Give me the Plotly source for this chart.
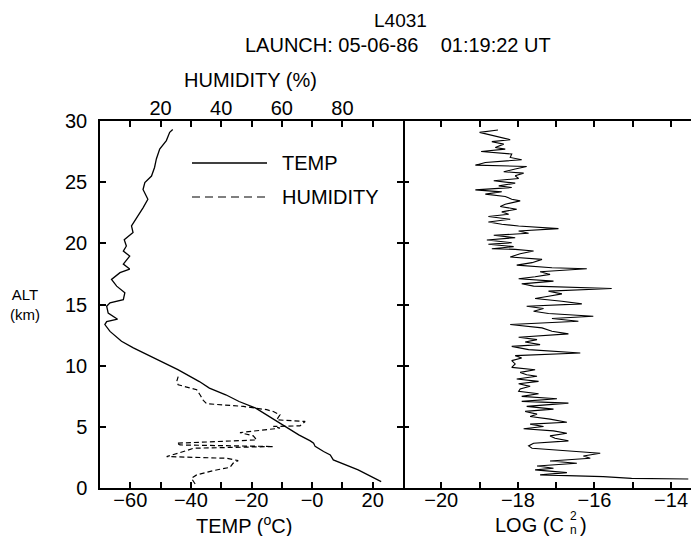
import plotly.graph_objects as go

# ---------------- data ----------------
title_line1 = "L4031"
title_line2 = "LAUNCH: 05-06-86\u00a0\u00a0\u00a0\u00a001:19:22 UT"

temp_alt = [0.52, 0.79, 1.48, 2.3, 2.5, 2.7, 2.98, 3.4, 3.66, 3.85, 4.34, 5.03, 5.85,
            6.53, 7.07, 7.62, 8.17, 8.7, 9.67, 10.76, 11.45, 12.0, 12.8, 13.36, 13.6,
            13.8, 14.3, 14.86, 15.14, 15.4, 15.96, 16.5, 17.05, 17.6, 17.9, 18.3,
            18.96, 19.37, 19.78, 20.3, 20.88, 21.42, 22.24, 22.9, 23.6, 24.4, 24.97,
            25.5, 26.2, 26.9, 27.7, 28.4, 29.07, 29.3]
temp_c = [22.8, 20.7, 15.2, 7.0, 6.5, 6.0, 3.8, 1.0, 0.5, -0.6, -4.4, -8.8, -14.3,
          -18.6, -24.1, -28.5, -33.9, -37.2, -44.3, -53.6, -59.0, -62.9, -66.7, -68.4, -67.8,
          -64.2, -67.3, -67.8, -66.7, -62.3, -61.8, -64.5, -66.2, -63.4, -60.2, -62.3,
          -60.2, -62.3, -61.3, -62.0, -59.1, -59.6, -57.4, -55.8, -54.2, -55.8, -55.2,
          -53.0, -52.0, -51.4, -50.3, -48.1, -47.0, -46.0]

hum_alt = [0.33, 0.79, 1.07, 1.42, 1.69, 2.02, 2.24, 2.43, 2.57, 2.79, 3.06, 3.25, 3.39,
           3.52, 3.66, 3.93, 4.26, 4.53, 4.75, 4.89, 5.03, 5.08, 5.44, 5.57, 5.98, 6.25,
           6.4, 6.67, 6.89, 7.16, 7.62, 8.03, 8.25, 8.44, 8.7, 9.1]
hum_pct = [31.4, 30.2, 31.9, 37.4, 42.9, 43.9, 45.6, 41.8, 22.0, 25.3, 28.6, 30.8, 57.2,
           26.4, 25.3, 51.7, 50.6, 46.2, 53.9, 59.4, 57.2, 66.0, 67.7, 58.3, 59.4, 57.2,
           55.0, 47.3, 35.2, 34.1, 33.0, 31.9, 28.6, 25.8, 25.3, 25.8]

cn2_alt = [0.74, 0.79, 0.93, 1.07, 1.26, 1.48, 1.61, 1.80, 2.02, 2.21, 2.43, 2.62, 2.84,
           3.11, 3.25, 3.44, 3.66, 3.85, 4.07, 4.26, 4.48, 4.67, 4.84, 5.03, 5.22, 5.38,
           5.63, 5.85, 6.04, 6.26, 6.45, 6.67, 6.94, 7.08, 7.30, 7.49, 7.70, 7.90, 8.09,
           8.31, 8.52, 8.72, 8.91, 9.13, 9.26, 9.45, 9.67, 9.86, 10.14, 10.41, 10.63,
           10.82, 11.04, 11.31, 11.58, 11.72, 11.94, 12.13, 12.32, 12.60, 12.81, 13.09,
           13.36, 13.63, 13.85, 14.04, 14.26, 14.45, 14.67, 14.86, 15.05, 15.27, 15.49,
           15.68, 15.87, 16.09, 16.31, 16.50, 16.69, 16.91, 17.10, 17.27, 17.46, 17.68,
           17.92, 18.01, 18.22, 18.42, 18.69, 18.88, 19.15, 19.37, 19.51, 19.56, 19.73,
           19.92, 20.05, 20.27, 20.46, 20.66, 20.82, 21.01, 21.20, 21.42, 21.56, 21.75,
           21.97, 22.19, 22.38, 22.57, 22.79, 23.01, 23.20, 23.47, 23.61, 23.83, 24.02,
           24.21, 24.37, 24.56, 24.70, 24.92, 25.11, 25.30, 25.52, 25.74, 25.85, 26.07,
           26.28, 26.39, 26.61, 26.83, 27.02, 27.30, 27.51, 27.70, 27.84, 28.11, 28.31,
           28.47, 28.85, 29.07, 29.26]
cn2_log = [-13.55, -15.03, -15.77, -17.42, -16.72, -17.55, -17.07, -17.50, -16.46, -17.16,
           -16.11, -16.29, -15.85, -17.16, -17.63, -17.72, -17.59, -16.68, -17.03, -17.16,
           -16.72, -17.07, -17.85, -17.33, -17.68, -16.72, -17.16, -17.68, -17.50, -17.81,
           -17.07, -17.77, -16.68, -17.90, -16.98, -17.90, -17.46, -17.98, -17.94, -17.68,
           -17.98, -17.46, -18.03, -17.50, -17.77, -17.94, -17.55, -18.16, -18.07, -18.16,
           -17.90, -18.07, -16.37, -17.72, -18.16, -17.42, -17.81, -17.50, -17.98, -16.68,
           -17.11, -17.37, -18.20, -16.42, -17.11, -16.03, -17.20, -17.59, -17.33, -17.77,
           -16.33, -16.85, -17.55, -17.20, -16.85, -17.20, -15.55, -17.59, -17.90, -17.07,
           -17.98, -17.55, -17.16, -17.42, -16.20, -17.11, -18.03, -17.63, -17.37, -18.20,
           -17.94, -17.59, -18.07, -18.68, -18.11, -18.77, -18.16, -18.81, -18.07, -18.63,
           -17.72, -17.98, -16.94, -17.98, -18.42, -18.77, -18.20, -18.77, -18.24, -18.42,
           -18.03, -18.46, -18.33, -17.94, -18.16, -18.33, -18.85, -18.42, -19.11, -18.16,
           -18.50, -18.07, -18.63, -17.98, -18.07, -17.85, -18.37, -18.07, -17.77, -19.11,
           -18.85, -17.90, -18.20, -18.16, -18.96, -18.33, -18.59, -18.37, -18.68, -18.20,
           -18.68, -19.00, -18.52]

alt_ticks = [0, 5, 10, 15, 20, 25, 30]
alt_labels = ["0", "5", "10", "15", "20", "25", "30"]
temp_ticks = [-60, -40, -20, 0, 20]
temp_labels = ["\u221260", "\u221240", "\u221220", "\u22120", "20"]
hum_ticks = [20, 40, 60, 80]
hum_labels = ["20", "40", "60", "80"]
cn2_ticks = [-20, -18, -16, -14]
cn2_labels = ["\u221220", "\u221218", "\u221216", "\u221214"]

series_names = ["TEMP", "HUMIDITY"]

# ---------------- figure ----------------
FONT = "Liberation Sans, Arial, Helvetica, sans-serif"
OFF = 8                      # page body margin of the html page
WIN_W, WIN_H = 699, 536
W, H = WIN_W - OFF, WIN_H - OFF
ML, MR, MT, MB = 100 - OFF, 0, 121 - OFF, 48
PW = W - ML - MR
PH = H - MT - MB
split = 303 / PW


def px(xw):
    # window pixel x -> paper x
    return (xw - OFF - ML) / PW


def py(yw):
    # window pixel y -> paper y
    return (H - MB - (yw - OFF)) / PH


fig = go.Figure()
fig.add_trace(go.Scatter(x=temp_c, y=temp_alt, mode="lines", name=series_names[0],
                         line=dict(color="black", width=1.3), xaxis="x", yaxis="y",
                         showlegend=False))
fig.add_trace(go.Scatter(x=hum_pct, y=hum_alt, mode="lines", name=series_names[1],
                         line=dict(color="black", width=1.2, dash="5px,3px"),
                         xaxis="x3", yaxis="y", showlegend=False))
fig.add_trace(go.Scatter(x=cn2_log, y=cn2_alt, mode="lines", name="LOG CN2",
                         line=dict(color="black", width=1.1), xaxis="x2", yaxis="y2",
                         showlegend=False))
fig.add_trace(go.Scatter(x=[], y=[], xaxis="x2", yaxis="y3", showlegend=False))

axis_common = dict(showgrid=False, zeroline=False, linecolor="black", linewidth=1.5,
                   ticks="inside", ticklen=6, tickwidth=1.5, tickcolor="black",
                   tickfont=dict(family=FONT, size=20, color="black"))


def minor(step, start):
    return dict(ticks="inside", ticklen=6, tickwidth=1.5, tickcolor="black",
                dtick=step, tick0=start, showgrid=False)


fig.update_layout(
    width=W, height=H, autosize=False,
    margin=dict(l=ML, r=MR, t=MT, b=MB, pad=0),
    paper_bgcolor="white", plot_bgcolor="white",
    font=dict(family=FONT, size=20, color="black"),
    showlegend=False,
    xaxis=dict(domain=[0, split], range=[-70, 30], anchor="y", showline=True, mirror=True,
               tickmode="array", tickvals=temp_ticks, ticktext=temp_labels,
               minor=minor(10, 0), ticklabelstandoff=-7, **axis_common),
    xaxis3=dict(overlaying="x", side="top", anchor="y", range=[0, 100], showline=False,
                tickmode="array", tickvals=hum_ticks, ticktext=hum_labels,
                minor=minor(10, 0), ticklabelstandoff=1, **axis_common),
    xaxis2=dict(domain=[split, 1], range=[-21, -13.27], anchor="y2", showline=True,
                mirror="ticks", tickmode="array", tickvals=cn2_ticks, ticktext=cn2_labels,
                minor=minor(1, 0), ticklabelstandoff=-7, **axis_common),
    yaxis=dict(domain=[0, 1], range=[0, 30], anchor="x", showline=True, mirror="ticks",
               tickmode="array", tickvals=alt_ticks, ticktext=alt_labels,
               ticklabelstandoff=7, **axis_common),
    yaxis2=dict(domain=[0, 1], range=[0, 30], anchor="x2", showline=False,
                showticklabels=False, tickmode="array", tickvals=alt_ticks, **axis_common),
    yaxis3=dict(overlaying="y2", side="right", anchor="x2", range=[0, 30], showline=False,
                showticklabels=False, tickmode="array", tickvals=alt_ticks, **axis_common),
)

ann = [
    dict(text=title_line1, x=px(400), y=py(21), size=19),
    dict(text=title_line2, x=px(398), y=py(45), size=20),
    dict(text="HUMIDITY (%)", x=px(250), y=py(80), size=20),
    dict(text="TEMP (<sup>o</sup>C)", x=px(244), y=py(524), size=20),
    dict(text="LOG (C", x=px(566), y=py(525), size=20, xanchor="right"),
    dict(text="2", x=px(568), y=py(516), size=12, xanchor="left"),
    dict(text="n", x=px(568), y=py(530), size=12, xanchor="left"),
    dict(text=")", x=px(578), y=py(525), size=20, xanchor="left"),
    dict(text="ALT<br>(km)", x=px(25), y=py(304), size=15),
    dict(text=series_names[0], x=px(280), y=py(163), size=20, xanchor="left"),
    dict(text=series_names[1], x=px(280), y=py(197), size=20, xanchor="left"),
]
for a in ann:
    fig.add_annotation(text=a["text"], x=a["x"], y=a["y"], xref="paper", yref="paper",
                       xanchor=a.get("xanchor", "center"), yanchor="middle",
                       showarrow=False, font=dict(family=FONT, size=a["size"], color="black"))

# legend keys
fig.add_shape(type="line", xref="paper", yref="paper", x0=px(192), x1=px(267),
              y0=py(163), y1=py(163), line=dict(color="black", width=1.3))
fig.add_shape(type="line", xref="paper", yref="paper", x0=px(192), x1=px(267),
              y0=py(197), y1=py(197), line=dict(color="black", width=1.2, dash="8px,5px"))

fig.write_html("out.html")
